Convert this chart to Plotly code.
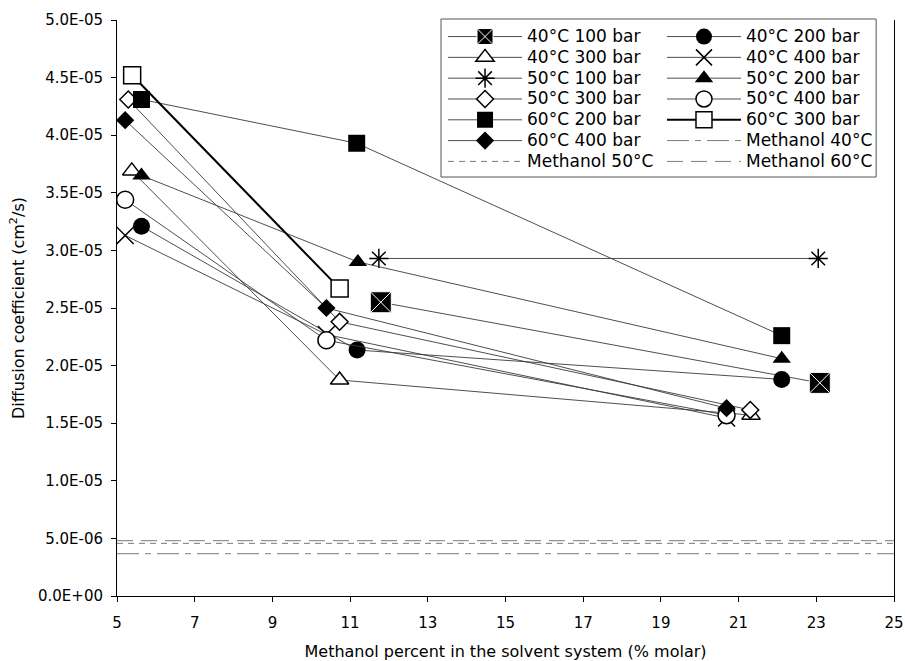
import plotly.graph_objects as go

# ---------------- data ----------------
X_TICKS = [5, 7, 9, 11, 13, 15, 17, 19, 21, 23, 25]
Y_TICK_VALS = [0, 5e-6, 1e-5, 1.5e-5, 2e-5, 2.5e-5, 3e-5, 3.5e-5, 4e-5, 4.5e-5, 5e-5]
Y_TICK_TEXT = ["0.0E+00", "5.0E-06", "1.0E-05", "1.5E-05", "2.0E-05", "2.5E-05",
               "3.0E-05", "3.5E-05", "4.0E-05", "4.5E-05", "5.0E-05"]

s40_100_x = [11.79, 23.09]
s40_100_y = [2.55e-5, 1.85e-5]
s40_200_x = [5.63, 11.18, 22.11]
s40_200_y = [3.21e-5, 2.135e-5, 1.88e-5]
s40_300_x = [5.38, 10.73, 21.32]
s40_300_y = [3.69e-5, 1.875e-5, 1.57e-5]
s40_400_x = [5.21, 10.39, 20.69]
s40_400_y = [3.13e-5, 2.27e-5, 1.545e-5]
s50_100_x = [11.74, 23.05]
s50_100_y = [2.93e-5, 2.93e-5]
s50_200_x = [5.63, 11.20, 22.11]
s50_200_y = [3.65e-5, 2.90e-5, 2.06e-5]
s50_300_x = [5.29, 10.73, 21.30]
s50_300_y = [4.31e-5, 2.38e-5, 1.615e-5]
s50_400_x = [5.21, 10.39, 20.69]
s50_400_y = [3.44e-5, 2.22e-5, 1.57e-5]
s60_200_x = [5.63, 11.17, 22.11]
s60_200_y = [4.31e-5, 3.93e-5, 2.26e-5]
s60_300_x = [5.39, 10.73]
s60_300_y = [4.52e-5, 2.67e-5]
s60_400_x = [5.21, 10.39, 20.69]
s60_400_y = [4.13e-5, 2.50e-5, 1.63e-5]

methanol_x = [5, 25]
methanol_40 = 3.67e-6
methanol_50 = 4.57e-6
methanol_60 = 4.80e-6

# ---------------- styling ----------------
FONT = "DejaVu Sans"
LINE_C = "#3a3a3a"


def lname(t):
    return '<span style="font-size:17px">' + t + '</span>'


fig = go.Figure()


def series(x, y, name, symbol, size, fill, lw_m, legend, line_w=0.9, line_c=LINE_C, mline="black"):
    fig.add_trace(go.Scatter(
        x=x, y=y, mode="lines+markers", name=lname(name), legend=legend,
        line=dict(color=line_c, width=line_w),
        marker=dict(symbol=symbol, size=size, color=fill,
                    line=dict(color=mline, width=lw_m)),
    ))


series(s40_100_x, s40_100_y, "40°C 100 bar", "square-x", 21, "black", 1, "legend", mline="white")
series(s40_200_x, s40_200_y, "40°C 200 bar", "circle", 17, "black", 0, "legend2")
series(s40_300_x, s40_300_y, "40°C 300 bar", "triangle-up", 16, "white", 1.5, "legend")
series(s40_400_x, s40_400_y, "40°C 400 bar", "x-thin-open", 17, "black", 1.5, "legend2")
series(s50_100_x, s50_100_y, "50°C 100 bar", "asterisk-open", 16, "black", 1.5, "legend")
series(s50_200_x, s50_200_y, "50°C 200 bar", "triangle-up", 16, "black", 0, "legend2")
series(s50_300_x, s50_300_y, "50°C 300 bar", "diamond", 13, "white", 1.5, "legend")
series(s50_400_x, s50_400_y, "50°C 400 bar", "circle", 17, "white", 1.5, "legend2")
series(s60_200_x, s60_200_y, "60°C 200 bar", "square", 17, "black", 0, "legend")
series(s60_300_x, s60_300_y, "60°C 300 bar", "square", 17, "white", 1.5, "legend2", line_w=2, line_c="black")
series(s60_400_x, s60_400_y, "60°C 400 bar", "diamond", 14, "black", 0, "legend")


def hline(val, name, dash, legend):
    fig.add_trace(go.Scatter(
        x=methanol_x, y=[val] * len(methanol_x), mode="lines", name=lname(name), legend=legend,
        line=dict(color="#7a7a7a", width=1, dash=dash),
    ))


hline(methanol_40, "Methanol 40°C", "22px,6px,6px,6px", "legend2")
hline(methanol_50, "Methanol 50°C", "6px,5px", "legend")
hline(methanol_60, "Methanol 60°C", "16px,8px", "legend2")

legend_common = dict(
    font=dict(family=FONT, size=13.7, color="black"),
    bgcolor="rgba(0,0,0,0)", borderwidth=0,
    itemwidth=74, xanchor="left", yanchor="top", tracegroupgap=0,
    itemclick=False, itemdoubleclick=False,
)

fig.update_layout(
    width=905, height=661,
    margin=dict(l=117, r=11, t=20, b=65, autoexpand=False),
    paper_bgcolor="white", plot_bgcolor="white",
    font=dict(family=FONT, color="black"),
    showlegend=True,
    legend=dict(x=0.4196, y=0.998, **legend_common),
    legend2=dict(x=0.7014, y=0.998, **legend_common),
    xaxis=dict(
        range=[5, 25], tickvals=X_TICKS, ticks="outside", ticklen=5, tickcolor="black",
        showline=True, linecolor="black", linewidth=1, showgrid=False, zeroline=False,
        ticklabelstandoff=8, automargin=False,
        tickfont=dict(family=FONT, size=15, color="black"),
        title=dict(text="Methanol percent in the solvent system (% molar)",
                   font=dict(family=FONT, size=16, color="black"), standoff=16),
    ),
    yaxis=dict(
        range=[0, 5e-5], tickvals=Y_TICK_VALS, ticktext=Y_TICK_TEXT, ticks="outside",
        ticklen=5, tickcolor="black", showline=True, linecolor="black", linewidth=1,
        mirror=True, showgrid=False, zeroline=False, ticklabelstandoff=5, automargin=False,
        tickfont=dict(family=FONT, size=15, color="black"),
        title=dict(text="Diffusion coefficient (cm<sup>2</sup>/s)",
                   font=dict(family=FONT, size=16, color="black"), standoff=9),
    ),
    shapes=[dict(type="rect", xref="paper", yref="paper",
                 x0=0.417, x1=0.977, y0=0.7274, y1=1.0017,
                 line=dict(color="#555555", width=1), fillcolor="rgba(0,0,0,0)")],
)

fig.write_html("out.html")
